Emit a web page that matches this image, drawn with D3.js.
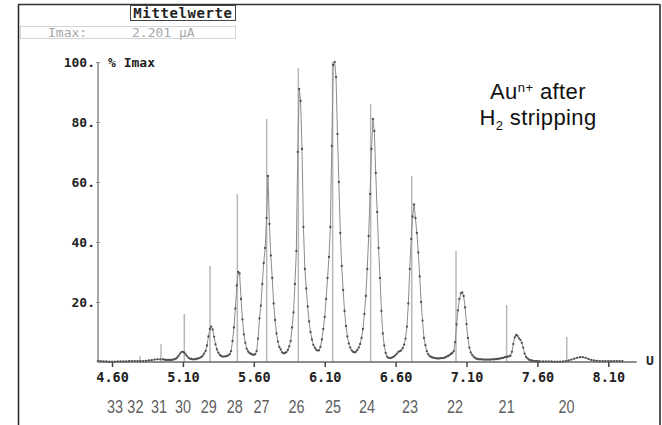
<!DOCTYPE html>
<html>
<head>
<meta charset="utf-8">
<script src="https://cdn.jsdelivr.net/npm/d3@7"></script>
<style>
  body { margin: 0; background: #fff; }
  svg { display: block; }
  .mono { font-family: "DejaVu Sans Mono", "Liberation Mono", monospace; font-weight: bold; }
</style>
</head>
<body>
<svg id="chart" width="662" height="425"></svg>
<script>
// Deflection voltage axis (V) and relative current axis (% of Imax)
const voltageTicks = [4.6, 5.1, 5.6, 6.1, 6.6, 7.1, 7.6, 8.1];
const voltageTickLabels = ["4.60", "5.10", "5.60", "6.10", "6.60", "7.10", "7.60", "8.10"];
const pctTicks = [20, 40, 60, 80, 100];
const pctTickLabels = ["20.", "40.", "60.", "80.", "100."];

// Cluster size labels (Au_n) and where they sit along the voltage axis
const clusterN = [33, 32, 31, 30, 29, 28, 27, 26, 25, 24, 23, 22, 21, 20];
const clusterLabelV = [4.622, 4.765, 4.931, 5.100, 5.283, 5.466, 5.654, 5.902, 6.158, 6.398, 6.702, 7.019, 7.383, 7.806];

// Stick markers: expected positions and relative heights
const stickN = [32, 31, 30, 29, 28, 27, 26, 25, 24, 23, 22, 21, 20];
const stickV = [4.797, 4.946, 5.110, 5.291, 5.484, 5.691, 5.914, 6.156, 6.424, 6.714, 7.026, 7.383, 7.807];
const stickPct = [2, 6, 16, 32, 56, 81, 98, 100, 86, 62, 37, 19, 8.4];

// Averaged measured trace: [voltage, % Imax]
const trace = [
  [4.50,0.3],[4.52,0.3],[4.54,0.2],[4.56,0.2],[4.58,0.1],[4.60,0.1],[4.62,0.1],[4.64,0.2],
  [4.66,0.2],[4.68,0.2],[4.70,0.2],[4.72,0.3],[4.74,0.3],[4.76,0.3],[4.78,0.3],[4.80,0.3],
  [4.82,0.3],[4.84,0.4],[4.86,0.5],[4.88,0.6],[4.90,0.8],[4.92,0.9],[4.94,0.9],
  [4.96,0.9],[4.97,0.8],[4.98,0.7],[4.99,0.7],[5.00,0.7],[5.01,0.7],[5.02,0.7],[5.03,0.8],
  [5.04,0.9],[5.05,1.1],[5.06,1.5],[5.07,2.1],[5.08,2.8],[5.09,3.3],[5.10,3.4],[5.11,3.1],
  [5.12,2.5],[5.13,1.9],[5.14,1.4],[5.15,1.1],[5.16,1.0],[5.17,0.9],[5.18,0.9],[5.19,1.0],
  [5.20,1.1],[5.21,1.2],[5.22,1.4],[5.23,1.7],[5.24,2.1],[5.25,2.8],[5.26,3.7],[5.27,5.5],
  [5.28,8.5],[5.29,11.0],[5.30,11.8],[5.31,10.8],[5.32,8.4],[5.33,5.9],[5.34,4.2],[5.35,3.1],
  [5.36,2.4],[5.37,2.0],[5.38,1.8],[5.39,1.8],[5.40,1.9],[5.41,2.0],[5.42,2.2],[5.43,2.6],
  [5.44,3.6],[5.45,7.0],[5.46,11.5],[5.47,17.8],[5.48,25.5],[5.49,30.0],[5.50,29.5],[5.51,21.0],
  [5.52,14.2],[5.53,9.2],[5.54,6.4],[5.55,4.4],[5.56,3.5],[5.57,3.0],[5.58,2.7],[5.59,2.5],
  [5.60,2.4],[5.61,2.6],[5.62,3.6],[5.63,7.8],[5.64,14.5],[5.65,18.8],[5.66,26.0],[5.67,33.0],
  [5.68,38.0],[5.69,48.0],[5.70,62.0],[5.71,46.0],[5.72,35.5],[5.73,28.0],[5.74,19.5],[5.75,14.0],
  [5.76,9.5],[5.77,6.8],[5.78,5.0],[5.79,4.2],[5.80,3.2],[5.81,2.9],[5.82,3.0],[5.83,3.3],
  [5.84,4.0],[5.85,5.2],[5.86,7.0],[5.87,11.5],[5.88,16.5],[5.89,26.0],[5.90,37.0],[5.91,70.0],
  [5.92,91.0],[5.93,87.0],[5.94,71.0],[5.95,45.0],[5.96,31.0],[5.97,24.5],[5.98,18.5],[5.99,13.5],
  [6.00,10.0],[6.01,7.5],[6.02,5.7],[6.03,4.8],[6.04,4.1],[6.05,3.8],[6.06,3.9],[6.07,5.0],
  [6.08,7.5],[6.09,11.0],[6.10,15.0],[6.11,21.0],[6.12,28.0],[6.13,35.0],[6.14,45.0],[6.15,72.0],
  [6.16,99.0],[6.17,100.0],[6.18,95.0],[6.19,76.0],[6.20,60.0],[6.21,43.0],[6.22,32.0],[6.23,24.0],
  [6.24,17.0],[6.25,12.0],[6.26,8.5],[6.27,6.2],[6.28,4.8],[6.29,3.9],[6.30,3.4],[6.31,3.2],
  [6.32,3.4],[6.33,4.0],[6.34,4.8],[6.35,6.0],[6.36,8.0],[6.37,11.0],[6.38,16.0],[6.39,22.0],
  [6.40,31.0],[6.41,42.0],[6.42,56.0],[6.43,71.0],[6.44,81.0],[6.45,77.0],[6.46,63.0],[6.47,50.0],
  [6.48,38.0],[6.49,28.0],[6.50,17.0],[6.51,9.5],[6.52,5.5],[6.53,3.0],[6.54,1.8],[6.55,1.4],
  [6.56,1.3],[6.57,1.4],[6.58,1.6],[6.59,1.9],[6.60,2.3],[6.61,2.8],[6.62,3.4],[6.63,3.6],
  [6.64,3.9],[6.65,4.6],[6.66,5.8],[6.67,7.8],[6.68,11.8],[6.69,19.5],[6.70,31.0],[6.71,41.0],
  [6.72,48.5],[6.73,52.5],[6.74,48.0],[6.75,43.0],[6.76,36.5],[6.77,28.5],[6.78,20.0],[6.79,13.8],
  [6.80,8.0],[6.81,5.6],[6.82,3.6],[6.83,2.6],[6.84,2.0],[6.85,1.7],[6.86,1.5],[6.87,1.4],
  [6.88,1.3],[6.89,1.2],[6.90,1.2],[6.91,1.2],[6.92,1.3],[6.93,1.3],[6.94,1.4],[6.95,1.5],
  [6.96,1.8],[6.97,2.0],[6.98,2.3],[6.99,2.7],[7.00,3.0],[7.01,3.6],[7.02,6.6],[7.03,12.5],
  [7.04,17.2],[7.05,21.0],[7.06,22.9],[7.07,23.2],[7.08,22.0],[7.09,18.2],[7.10,12.6],[7.11,8.0],
  [7.12,4.8],[7.13,3.2],[7.14,2.4],[7.15,1.8],[7.16,1.4],[7.17,1.1],[7.18,1.0],[7.19,0.9],
  [7.20,0.9],[7.21,0.9],[7.22,0.8],[7.23,0.8],[7.24,0.8],[7.25,0.8],[7.26,0.8],[7.27,0.8],
  [7.28,0.9],[7.29,0.9],[7.30,0.9],[7.31,1.0],[7.32,1.0],[7.33,1.1],[7.34,1.2],[7.35,1.3],
  [7.36,1.4],[7.37,1.6],[7.38,1.7],[7.39,1.8],[7.40,1.9],[7.41,2.1],[7.42,3.4],[7.43,6.0],
  [7.44,8.2],[7.45,9.0],[7.46,8.7],[7.47,7.9],[7.48,7.4],[7.49,6.4],[7.50,4.8],[7.51,2.8],
  [7.52,1.7],[7.53,1.2],[7.54,0.8],[7.55,0.6],[7.56,0.5],[7.57,0.4],[7.58,0.3],[7.59,0.3],
  [7.60,0.3],[7.61,0.2],[7.62,0.2],
  [7.64,0.2],[7.66,0.2],[7.68,0.2],[7.70,0.2],[7.72,0.1],[7.74,0.1],[7.76,0.1],[7.78,0.2],
  [7.80,0.3],[7.82,0.5],[7.84,0.8],[7.86,1.1],[7.88,1.4],[7.90,1.6],[7.92,1.6],[7.94,1.4],
  [7.96,1.0],[7.98,0.7],[8.00,0.5],[8.02,0.4],[8.04,0.3],[8.06,0.3],[8.08,0.3],[8.10,0.3],
  [8.12,0.3],[8.14,0.3],[8.16,0.3],[8.18,0.3],[8.20,0.3]
];

const svg = d3.select("#chart");

// Scales
const x = d3.scaleLinear().domain([4.6, 8.1]).range([112, 608.3]);
const y = d3.scaleLinear().domain([0, 100]).range([362, 62]);
const xMin = 4.5, xMax = 8.3;

// Outer frame
svg.append("line").attr("x1", 18.5).attr("x2", 18.5).attr("y1", 4).attr("y2", 425)
  .attr("stroke", "#222").attr("stroke-width", 1.5);
svg.append("line").attr("x1", 18).attr("x2", 660).attr("y1", 4.5).attr("y2", 4.5)
  .attr("stroke", "#333").attr("stroke-width", 1.5);
svg.append("line").attr("x1", 660).attr("x2", 660).attr("y1", 4).attr("y2", 425)
  .attr("stroke", "#555").attr("stroke-width", 2);

// Header boxes
svg.append("rect").attr("x", 130.5).attr("y", 5.5).attr("width", 105).attr("height", 15)
  .attr("fill", "#fff").attr("stroke", "#444").attr("stroke-width", 1);
svg.append("text").attr("class", "mono").attr("x", 183).attr("y", 17.5)
  .attr("text-anchor", "middle").attr("font-size", 14).attr("letter-spacing", 0.6)
  .attr("fill", "#222").text("Mittelwerte");
svg.append("rect").attr("x", 20.5).attr("y", 26.5).attr("width", 215).attr("height", 12)
  .attr("fill", "none").attr("stroke", "#d4d4d4").attr("stroke-width", 1);
svg.append("text").attr("x", 48).attr("y", 37).attr("font-size", 13)
  .attr("font-family", "DejaVu Sans Mono, monospace").attr("fill", "#a8a8a8").text("Imax:");
svg.append("text").attr("x", 132).attr("y", 37).attr("font-size", 13)
  .attr("font-family", "DejaVu Sans Mono, monospace").attr("fill", "#a8a8a8").text("2.201 µA");

// Stick markers
svg.append("g").selectAll("line").data(stickV).join("line")
  .attr("x1", d => x(d)).attr("x2", d => x(d))
  .attr("y1", y(0)).attr("y2", (d, i) => y(stickPct[i]))
  .attr("stroke", "#b8b8b8").attr("stroke-width", 1.5);

// Axes
const yAxis = d3.axisLeft(y).tickValues(pctTicks).tickSize(3)
  .tickFormat((d, i) => pctTickLabels[i]);
const gy = svg.append("g").attr("transform", "translate(98,0)").call(yAxis);
gy.select(".domain").attr("stroke", "#8a8a8a").attr("stroke-width", 1.5)
  .attr("d", `M0,${y(100)}V${y(0)}`);
gy.selectAll(".tick line").attr("stroke", "#888").attr("x1", -2).attr("x2", 2);
gy.selectAll(".tick text").attr("class", "mono").attr("font-size", 13)
  .attr("fill", "#222").attr("x", -3).attr("dy", "0.35em");

const xAxis = d3.axisBottom(x).tickValues(voltageTicks).tickSize(5)
  .tickFormat((d, i) => voltageTickLabels[i]);
const gx = svg.append("g").attr("transform", `translate(0,${y(0)})`).call(xAxis);
gx.select(".domain").attr("stroke", "#6a6a6a").attr("stroke-width", 1.5)
  .attr("d", `M${x(xMin)},0H${x(xMax)}`);
gx.selectAll(".tick line").attr("stroke", "#444").attr("stroke-width", 1.5);
gx.selectAll(".tick text").attr("class", "mono").attr("font-size", 13.5)
  .attr("fill", "#222").attr("y", 10).attr("dy", "0.71em");

svg.append("text").attr("class", "mono").attr("x", 108).attr("y", y(100) + 4.5)
  .attr("font-size", 13).attr("fill", "#222").text("% Imax");
svg.append("text").attr("class", "mono").attr("x", 646).attr("y", y(0) + 3)
  .attr("font-size", 13).attr("fill", "#222").text("U");

// Measured trace: thin line with sample dots
const line = d3.line().x(d => x(d[0])).y(d => y(d[1]));
svg.append("path").datum(trace).attr("d", line)
  .attr("fill", "none").attr("stroke", "#8c8c8c").attr("stroke-width", 1);
svg.append("g").selectAll("circle").data(trace).join("circle")
  .attr("cx", d => x(d[0])).attr("cy", d => y(d[1])).attr("r", 1.15)
  .attr("fill", "#505050");

// Cluster size labels, condensed
svg.append("g").selectAll("text").data(clusterN).join("text")
  .attr("transform", (d, i) => `translate(${x(clusterLabelV[i])},413) scale(0.76,1)`)
  .attr("text-anchor", "middle")
  .attr("font-family", "Liberation Sans, Arial, sans-serif")
  .attr("font-size", 19).attr("fill", "#606060")
  .text(d => d);

// Annotation
const note = svg.append("text").attr("font-family", "Liberation Sans, Arial, sans-serif")
  .attr("font-size", 22).attr("fill", "#111").attr("text-anchor", "middle")
  .attr("letter-spacing", 0.4);
const l1 = note.append("tspan").attr("x", 538).attr("y", 99);
l1.append("tspan").text("Au");
l1.append("tspan").attr("font-size", 13).attr("dy", -7).text("n+");
l1.append("tspan").attr("dy", 7).text(" after");
const l2 = note.append("tspan").attr("x", 538).attr("y", 125);
l2.append("tspan").text("H");
l2.append("tspan").attr("font-size", 13).attr("dy", 5).text("2");
l2.append("tspan").attr("dy", -5).text(" stripping");
</script>
</body>
</html>
